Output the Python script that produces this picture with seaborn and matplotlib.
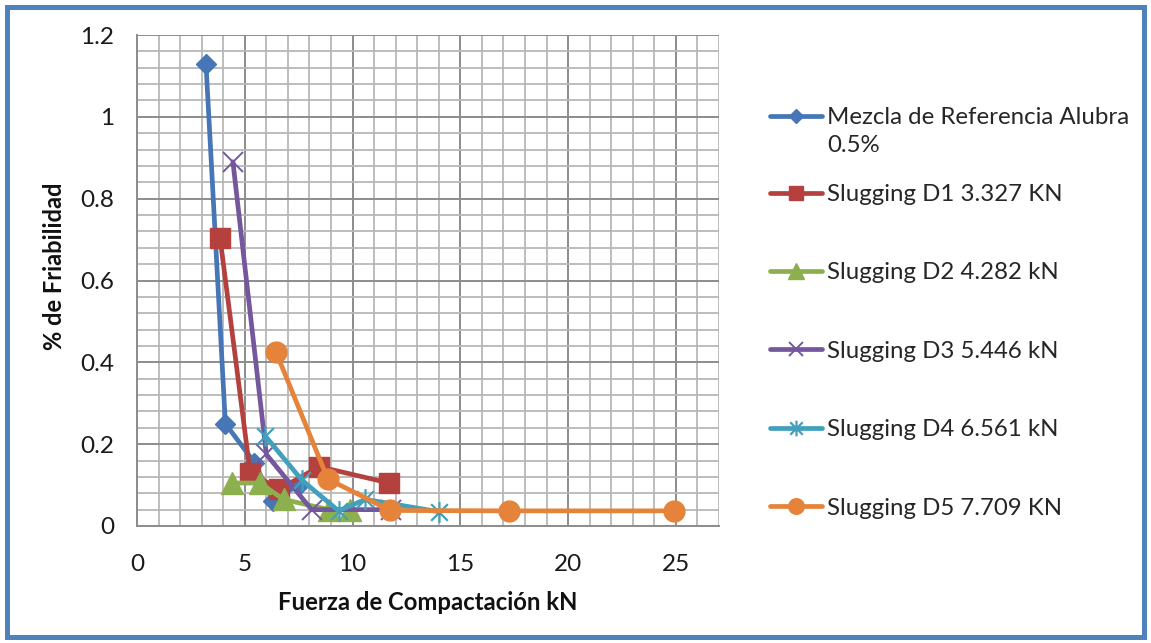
import matplotlib
matplotlib.use("Agg")
import matplotlib.pyplot as plt
import seaborn as sns
from matplotlib.path import Path
from matplotlib.patches import Rectangle
from matplotlib.legend_handler import HandlerLine2D
from matplotlib.transforms import Affine2D
from matplotlib.ticker import MultipleLocator

# Friability (%) versus compaction force (kN) for each blend
ref_x = [3.2, 4.1, 5.45, 6.3, 7.5]
ref_y = [1.13, 0.25, 0.155, 0.062, 0.10]

d1_x = [3.85, 5.25, 6.6, 8.45, 11.7]
d1_y = [0.705, 0.13, 0.09, 0.145, 0.105]

d2_x = [4.4, 5.7, 6.8, 8.9, 9.9]
d2_y = [0.105, 0.105, 0.065, 0.04, 0.04]

d3_x = [4.45, 6.0, 8.1, 11.8]
d3_y = [0.89, 0.175, 0.04, 0.04]

d4_x = [5.95, 7.65, 9.35, 10.6, 14.0]
d4_y = [0.22, 0.112, 0.037, 0.065, 0.035]

d5_x = [6.45, 8.85, 11.75, 17.25, 24.9]
d5_y = [0.425, 0.115, 0.038, 0.037, 0.037]

series_labels = [
    "Mezcla de Referencia Alubra\n0.5%",
    "Slugging D1 3.327 KN",
    "Slugging D2 4.282 kN",
    "Slugging D3 5.446 kN",
    "Slugging D4 6.561 kN",
    "Slugging D5 7.709 KN",
]

x_ticks = [0, 5, 10, 15, 20, 25]
y_ticks = [0, 0.2, 0.4, 0.6, 0.8, 1.0, 1.2]
y_tick_labels = ["0", "0.2", "0.4", "0.6", "0.8", "1", "1.2"]

x_title = "Fuerza de Compactación kN"
y_title = "% de Friabilidad"

sns.set_theme(style="white")
plt.rcParams["font.family"] = ["Lato", "DejaVu Sans"]

W, H = 1151, 643
fig = plt.figure(figsize=(W / 100, H / 100), dpi=100)
fig.patch.set_facecolor("white")
ax = fig.add_axes([137 / W, 1 - 526 / H, (719 - 137) / W, (526 - 35) / H])

# asterisk marker: vertical bar plus an X
star = Path(
    [(0, -1), (0, 1), (-0.8, -0.8), (0.8, 0.8), (-0.8, 0.8), (0.8, -0.8)],
    [Path.MOVETO, Path.LINETO, Path.MOVETO, Path.LINETO, Path.MOVETO, Path.LINETO],
)

styles = [
    (ref_x, ref_y, "#4676B6", "D", 10, 1.0),
    (d1_x, d1_y, "#B5413F", "s", 14, 1.0),
    (d2_x, d2_y, "#8DB04E", "^", 16, 1.0),
    (d3_x, d3_y, "#74579C", "x", 14, 1.4),
    (d4_x, d4_y, "#41A0BC", star, 15, 1.6),
    (d5_x, d5_y, "#E5833A", "o", 15, 1.0),
]

handles = []
for i, (xs, ys, col, mk, ms, mew) in enumerate(styles):
    sns.lineplot(
        x=xs, y=ys, sort=False, estimator=None, ax=ax,
        color=col, linewidth=3.4, marker=mk, markersize=ms,
        markerfacecolor=col, markeredgecolor=col, markeredgewidth=mew,
        zorder=3 + i, legend=False,
    )
    ax.lines[-1].set_solid_capstyle("round")
    handles.append(ax.lines[-1])

ax.set_xlim(0, 27)
ax.set_ylim(0, 1.2)
ax.set_xticks(x_ticks, [str(t) for t in x_ticks])
ax.set_yticks(y_ticks, y_tick_labels)
ax.xaxis.set_minor_locator(MultipleLocator(1))
ax.yaxis.set_minor_locator(MultipleLocator(0.04))

ax.set_axisbelow(True)
ax.grid(which="minor", color="#b7b7b7", linewidth=1.3)
ax.grid(which="major", color="#8c8c8c", linewidth=1.4)

for side in ("top", "right"):
    ax.spines[side].set_visible(False)
for side in ("left", "bottom"):
    ax.spines[side].set_color("#8c8c8c")
    ax.spines[side].set_linewidth(1.4)

ax.tick_params(which="minor", length=0)
ax.tick_params(axis="y", which="major", direction="out", length=6.5, width=1.3,
               color="#8c8c8c", labelsize=17.5, labelcolor="#1a1a1a", pad=10)
ax.tick_params(axis="x", which="major", direction="out", length=7.5, width=1.3,
               color="#8c8c8c", labelsize=17.5, labelcolor="#1a1a1a", pad=13)

ax.set_xlabel(x_title, fontsize=17.2, fontweight="bold", color="#111111", va="center")
ax.set_ylabel(y_title, fontsize=17.0, fontweight="bold", color="#111111", va="center")
ax.xaxis.set_label_coords(0.5, (526 - 603) / 491)
ax.yaxis.set_label_coords((55 - 137) / 582, (526 - 266) / 491)


class RaisedLine(HandlerLine2D):
    """Line handler drawn higher, next to the first row of a wrapped label."""

    def __init__(self, dy, **kw):
        super().__init__(**kw)
        self.dy = dy

    def create_artists(self, legend, orig_handle, xdescent, ydescent,
                       width, height, fontsize, trans):
        return super().create_artists(legend, orig_handle, xdescent, ydescent,
                                      width, height, fontsize,
                                      Affine2D().translate(0, self.dy) + trans)


leg_kw = dict(frameon=False, fontsize=17.3, handlelength=2.15, handletextpad=0.22,
              borderpad=0, borderaxespad=0, markerscale=0.75,
              bbox_transform=fig.transFigure, loc="upper left")

leg1 = ax.legend([handles[0]], [series_labels[0]],
                 bbox_to_anchor=(770 / W, 1 - 107 / H),
                 handler_map={handles[0]: RaisedLine(11.0)}, **leg_kw)
for t in leg1.get_texts():
    t.set_linespacing(1.4)
ax.add_artist(leg1)

leg2 = ax.legend(handles[1:], series_labels[1:],
                 bbox_to_anchor=(770 / W, 1 - 184 / H),
                 labelspacing=2.39, **leg_kw)

fig.patches.append(Rectangle((7.5 / W, 6.5 / H), 1 - 15 / W, 1 - 13 / H,
                             transform=fig.transFigure, fill=False,
                             edgecolor="#4F81BD", linewidth=3.6))

fig.savefig("out.png", dpi=100, facecolor="white")
